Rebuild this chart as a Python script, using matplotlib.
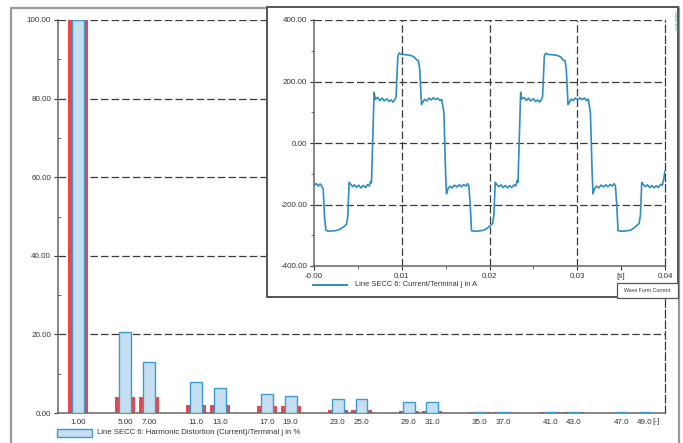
# Harmonic distortion spectrum with current waveform inset

import numpy as np
import matplotlib.pyplot as plt
from matplotlib.patches import Rectangle
from matplotlib.lines import Line2D

plt.rcParams['font.family'] = ['Liberation Sans', 'DejaVu Sans']

# --------------------------------------------------
# data
# --------------------------------------------------
orders = [1, 5, 7, 11, 13, 17, 19, 23, 25, 29, 31, 35, 37, 41, 43, 47, 49]
order_labels = ["1.00", "5.00", "7.00", "11.0", "13.0", "17.0", "19.0", "23.0", "25.0",
                "29.0", "31.0", "35.0", "37.0", "41.0", "43.0", "47.0", "49.0"]
thd_values = [100, 20.7, 13.1, 7.8, 6.3, 4.9, 4.4, 3.6, 3.5, 2.8, 2.7,
              0.2, 0.2, 0.2, 0.2, 0.3, 0.3]
limit_values = [100, 4.1, 4.1, 2.1, 2.1, 1.7, 1.7, 0.7, 0.7, 0.6, 0.6,
                0.35, 0.35, 0.35, 0.35, 0.0, 0.0]

# waveform, time in ms, current in A
t_ms = [0.0, 0.25, 0.5, 0.7, 0.9, 1.05, 1.2, 1.35, 1.6, 2.0, 2.5, 3.0, 3.4, 3.7, 3.85,
        4.0, 4.15, 4.4, 4.6, 4.85, 5.1, 5.35, 5.6, 5.9, 6.1, 6.3, 6.45, 6.55, 6.75, 6.85,
        7.0, 7.25, 7.5, 7.75, 8.0, 8.3, 8.55, 8.8, 9.0, 9.2, 9.35, 9.55, 9.7, 10.0, 10.5,
        11.0, 11.4, 11.7, 11.9, 12.05, 12.25, 12.4, 12.6, 12.85, 13.1, 13.35, 13.6, 13.85,
        14.1, 14.35, 14.55, 14.65, 14.8, 15.0, 15.1, 15.25, 15.5, 15.75, 16.0, 16.3, 16.55,
        16.8, 17.05, 17.3, 17.5, 17.65, 17.8, 17.95, 18.3, 18.8, 19.3, 19.7, 20.1, 20.35,
        20.5, 20.65, 20.8, 21.05, 21.3, 21.55, 21.8, 22.05, 22.3, 22.55, 22.8, 23.0, 23.15,
        23.25, 23.45, 23.55, 23.7, 23.95, 24.2, 24.45, 24.7, 25.0, 25.25, 25.5, 25.7, 25.9,
        26.05, 26.25, 26.4, 26.7, 27.2, 27.7, 28.1, 28.4, 28.6, 28.75, 28.95, 29.1, 29.3,
        29.55, 29.8, 30.05, 30.3, 30.55, 30.8, 31.05, 31.25, 31.35, 31.5, 31.7, 31.8, 31.95,
        32.2, 32.45, 32.7, 33.0, 33.25, 33.5, 33.75, 34.0, 34.2, 34.35, 34.5, 34.65, 35.0,
        35.5, 36.0, 36.4, 36.8, 37.05, 37.2, 37.35, 37.5, 37.75, 38.0, 38.25, 38.5, 38.75,
        39.0, 39.25, 39.5, 39.7, 39.85, 40.0]
i_amp = [-138, -132, -140, -133, -142, -150, -240, -283, -287, -286, -285, -280, -272, -265, -240,
         -128, -133, -142, -136, -144, -137, -146, -138, -145, -135, -140, -125, -130, 60, 165,
         142, 148, 138, 146, 137, 144, 135, 140, 133, 140, 150, 280, 293, 288, 287,
         285, 280, 270, 268, 240, 125, 132, 142, 137, 146, 140, 147, 141,
         146, 138, 142, 125, 100, -100, -165, -150, -140, -146, -137, -143, -136,
         -142, -135, -140, -132, -140, -200, -285, -287, -286, -284, -278, -268, -262,
         -235, -128, -134, -142, -136, -145, -138, -146, -139, -145, -136, -140, -122,
         -128, 60, 165, 143, 148, 138, 146, 137, 144, 135, 140, 133, 140,
         152, 283, 292, 288, 287, 285, 280, 270, 268, 240, 125, 132, 143,
         138, 146, 140, 147, 141, 146, 138, 143, 125, 100, -100, -165, -150,
         -140, -146, -137, -143, -136, -142, -135, -140, -132, -140, -200, -285, -287,
         -286, -284, -278, -268, -262, -235, -128, -134, -142, -136, -145, -138, -146,
         -139, -145, -134, -138, -118, -92]

t_s = np.array(t_ms) / 1000.0

# --------------------------------------------------
# colours and helpers
# --------------------------------------------------
W, H = 683, 443
bar_face = '#c6dff0'
bar_edge = '#3a9cd0'
red = '#e8474c'
line_col = '#2f8dbf'
grid_col = '#3a3a3a'
txt_col = '#333333'
dash = (0, (6, 2.5))


def fx(x):
    return x / W


def fy(y):
    return 1 - y / H


fig = plt.figure(figsize=(W / 100, H / 100), dpi=100)

# outer frame
fig.patches.append(Rectangle((fx(11), fy(455)), fx(668), 447 / H, transform=fig.transFigure,
                             fill=False, edgecolor='#9a9a9a', linewidth=1.6, clip_on=False))

# --------------------------------------------------
# main harmonic bar chart
# --------------------------------------------------
ax = fig.add_axes([fx(58), fy(413), fx(665 - 58), (413 - 20) / H])
ax.bar(orders, limit_values, width=1.7, color=red, edgecolor='none', zorder=2)
ax.bar(orders, thd_values, width=1.0, color=bar_face, edgecolor=bar_edge, linewidth=1.0, zorder=3)

ax.set_xlim(-0.7, 50.7)
ax.set_ylim(0, 100)
ax.set_yticks(np.arange(0, 101, 20))
ax.set_yticks(np.arange(10, 100, 20), minor=True)
ax.set_yticklabels([f"{v:.2f}" for v in np.arange(0, 101, 20)])
ax.set_xticks(orders)
ax.set_xticklabels(order_labels)
ax.tick_params(axis='x', length=0, pad=4, labelsize=5.8, colors=txt_col)
ax.tick_params(axis='y', which='major', length=3, direction='out', pad=2, labelsize=5.8, colors=txt_col)
ax.tick_params(axis='y', which='minor', length=2, direction='in', color='#555555')
for yv in range(20, 101, 20):
    ax.axhline(yv, color=grid_col, linestyle=dash, linewidth=0.9, zorder=1)
ax.spines['top'].set_visible(False)
ax.spines['right'].set_linestyle(dash)
ax.spines['right'].set_color(grid_col)
ax.spines['right'].set_linewidth(0.9)
for s in ['left', 'bottom']:
    ax.spines[s].set_color('#666666')
    ax.spines[s].set_linewidth(1.1)
fig.text(fx(652), fy(421.5), "[-]", fontsize=5.8, color=txt_col, ha='left', va='center')

# legend of bars
fig.patches.append(Rectangle((fx(57), fy(437)), fx(35), 8 / H, transform=fig.transFigure,
                             facecolor=bar_face, edgecolor=bar_edge, linewidth=1.0))
fig.text(fx(97), fy(433), "Line SECC 6: Harmonic Distortion (Current)/Terminal j in %",
         fontsize=5.6, color=txt_col, va='center', ha='left')

# --------------------------------------------------
# inset with the current waveform
# --------------------------------------------------
fig.patches.append(Rectangle((fx(267), fy(297)), fx(678 - 267), (297 - 7) / H,
                             transform=fig.transFigure, facecolor='white',
                             edgecolor='#555555', linewidth=1.4, zorder=5))

ax2 = fig.add_axes([fx(314), fy(266), fx(665 - 314), (266 - 20) / H], zorder=6)
ax2.plot(t_s, i_amp, color=line_col, linewidth=1.2, zorder=3)
ax2.set_xlim(0, 0.04)
ax2.set_ylim(-400, 400)
ax2.set_yticks([-400, -200, 0, 200, 400])
ax2.set_yticklabels(["-400.00", "-200.00", "0.00", "200.00", "400.00"])
ax2.set_yticks([-300, -100, 100, 300], minor=True)
ax2.set_xticks([0, 0.01, 0.02, 0.03, 0.035, 0.04])
ax2.set_xticklabels(["-0.00", "0.01", "0.02", "0.03", "[s]", "0.04"])
ax2.set_xticks([0.005, 0.015, 0.025], minor=True)
ax2.tick_params(which='major', length=3, direction='out', pad=2, labelsize=5.8, colors=txt_col)
ax2.tick_params(which='minor', length=2, direction='out', color='#555555')
for yv in [-200, 0, 200, 400]:
    ax2.axhline(yv, color=grid_col, linestyle=dash, linewidth=0.9, zorder=1)
for xv in [0.01, 0.02, 0.03]:
    ax2.axvline(xv, color=grid_col, linestyle=dash, linewidth=0.9, zorder=1)
ax2.spines['top'].set_visible(False)
ax2.spines['right'].set_linestyle(dash)
ax2.spines['right'].set_color(grid_col)
ax2.spines['right'].set_linewidth(0.9)
for s in ['left', 'bottom']:
    ax2.spines[s].set_color('#666666')
    ax2.spines[s].set_linewidth(1.1)

# inset legend
fig.lines.append(Line2D([fx(313), fx(347)], [fy(285), fy(285)], transform=fig.transFigure,
                        color=line_col, linewidth=1.4, zorder=7))
fig.text(fx(355), fy(285), "Line SECC 6: Current/Terminal j in A",
         fontsize=5.4, color=txt_col, va='center', ha='left', zorder=7)

# small title box
fig.patches.append(Rectangle((fx(617), fy(298)), fx(61), 15 / H, transform=fig.transFigure,
                             facecolor='white', edgecolor='#555555', linewidth=0.9, zorder=7))
fig.text(fx(647.5), fy(290.5), "Wave Form Current", fontsize=3.8, color=txt_col,
         va='center', ha='center', zorder=8)

# tiny vertical logo text
fig.text(fx(675), fy(22), "DIgSILENT", fontsize=3, color='#3f8fa8', rotation=270,
         va='center', ha='center', zorder=8)

fig.savefig("out.png", dpi=100)
